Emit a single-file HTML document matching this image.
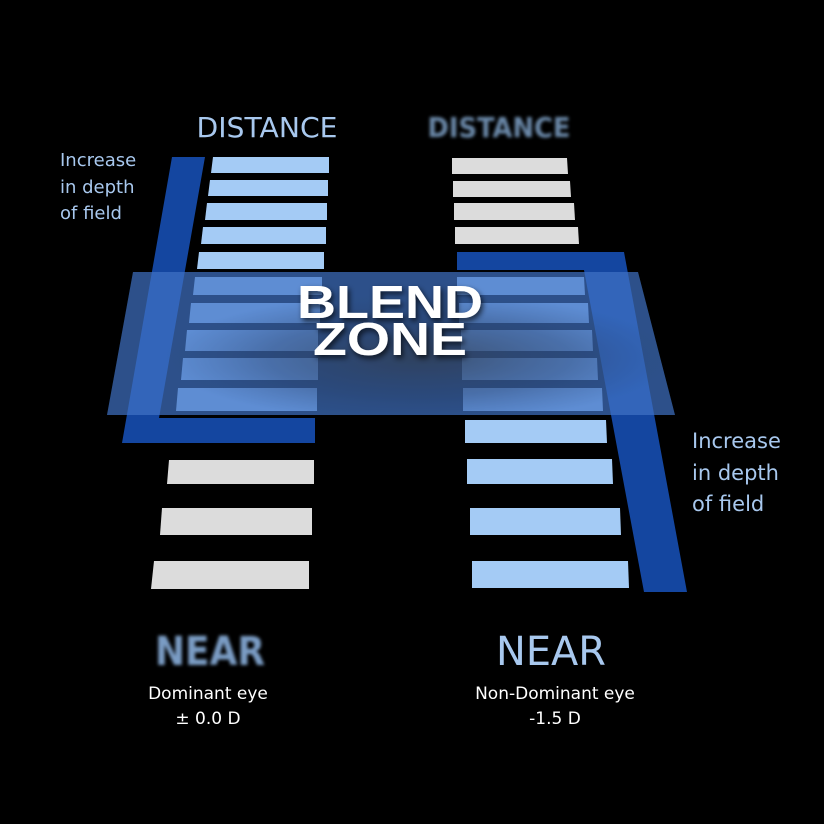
<!DOCTYPE html>
<html><head><style>html,body{margin:0;padding:0;background:#000;width:824px;height:824px;overflow:hidden}</style></head>
<body>
<svg width="824" height="824" viewBox="0 0 824 824" xmlns="http://www.w3.org/2000/svg" style="display:block">
<defs>
<filter id="blur" x="-10%" y="-30%" width="120%" height="160%"><feGaussianBlur stdDeviation="1.6"/></filter>
<filter id="sh" x="-20%" y="-30%" width="140%" height="160%"><feDropShadow dx="2" dy="3" stdDeviation="3" flood-color="#000" flood-opacity="0.7"/></filter>
<radialGradient id="bz" cx="0.55" cy="0.6" r="0.45">
<stop offset="0" stop-color="#2a3240" stop-opacity="0.9"/>
<stop offset="0.6" stop-color="#2b4a80" stop-opacity="0.75"/>
<stop offset="1" stop-color="#3a6cc0" stop-opacity="0.6"/>
</radialGradient>
</defs>
<rect width="824" height="824" fill="#000"/>
<polygon points="172,157 205,157 159,418 315,418 315,443 122,443" fill="#1446a0"/>
<polygon points="457,252 624,252 687,592 644,592 584,270 457,270" fill="#1446a0"/>
<g fill="#a4cbf5">
<polygon points="213,157 329,157 329,173 211,173"/>
<polygon points="210,180 328,180 328,196 208,196"/>
<polygon points="207,203 327,203 327,220 205,220"/>
<polygon points="203,227 326,227 326,244 201,244"/>
<polygon points="199,252 324,252 324,269 197,269"/>
<polygon points="195,277 322,277 322,295 193,295"/>
<polygon points="191,303 320,303 320,323 189,323"/>
<polygon points="187,330 318,330 318,351 185,351"/>
<polygon points="183,358 318,358 318,380 181,380"/>
<polygon points="178,388 317,388 317,411 176,411"/>
</g>
<g fill="#dcdcdc">
<polygon points="169,460 314,460 314,484 167,484"/>
<polygon points="162,508 312,508 312,535 160,535"/>
<polygon points="154,561 309,561 309,589 151,589"/>
<polygon points="452,158 567,158 568,174 452,174"/>
<polygon points="453,181 570,181 571,197 453,197"/>
<polygon points="454,203 574,203 575,220 454,220"/>
<polygon points="455,227 578,227 579,244 455,244"/>
</g>
<g fill="#a4cbf5">
<polygon points="457,277 584,277 585,295 457,295"/>
<polygon points="459,303 588,303 589,323 459,323"/>
<polygon points="461,330 592,330 593,351 461,351"/>
<polygon points="462,358 597,358 598,380 462,380"/>
<polygon points="463,388 602,388 603,411 463,411"/>
<polygon points="465,420 606,420 607,443 465,443"/>
<polygon points="467,459 612,459 613,484 467,484"/>
<polygon points="470,508 620,508 621,535 470,535"/>
<polygon points="472,561 628,561 629,588 472,588"/>
</g>
<polygon points="133,272 638,272 675,415 107,415" fill="url(#bz)"/>
<polygon points="133,272 638,272 675,415 107,415" fill="#4a80d0" opacity="0.25"/>
<g font-family="Liberation Sans, sans-serif" font-weight="bold" fill="#fff" text-anchor="middle" filter="url(#sh)" font-size="46">
<text x="390" y="318" textLength="186" lengthAdjust="spacingAndGlyphs">BLEND</text>
<text x="390" y="355" textLength="154" lengthAdjust="spacingAndGlyphs">ZONE</text>
</g>
<g font-family="DejaVu Sans, Liberation Sans, sans-serif" fill="#a8c8ee">
<text x="267" y="137" font-size="28" text-anchor="middle" textLength="141" lengthAdjust="spacingAndGlyphs">DISTANCE</text>
<text x="499" y="137" font-size="28" text-anchor="middle" font-weight="bold" fill="#6a88a8" filter="url(#blur)" textLength="143" lengthAdjust="spacingAndGlyphs">DISTANCE</text>
<text x="60" y="166" font-size="18">Increase</text>
<text x="60" y="193" font-size="18">in depth</text>
<text x="60" y="219" font-size="18">of field</text>
<text x="692" y="448" font-size="21">Increase</text>
<text x="692" y="480" font-size="21">in depth</text>
<text x="692" y="511" font-size="21">of field</text>
<text x="210" y="665" font-size="40" text-anchor="middle" font-weight="bold" fill="#7a9cc4" filter="url(#blur)" textLength="110" lengthAdjust="spacingAndGlyphs">NEAR</text>
<text x="551" y="665" font-size="40" text-anchor="middle" textLength="110" lengthAdjust="spacingAndGlyphs">NEAR</text>
</g>
<g font-family="DejaVu Sans, Liberation Sans, sans-serif" fill="#fff" font-size="17" text-anchor="middle">
<text x="208" y="699">Dominant eye</text>
<text x="208" y="724">± 0.0 D</text>
<text x="555" y="699">Non-Dominant eye</text>
<text x="555" y="724">-1.5 D</text>
</g>
</svg>
</body></html>
